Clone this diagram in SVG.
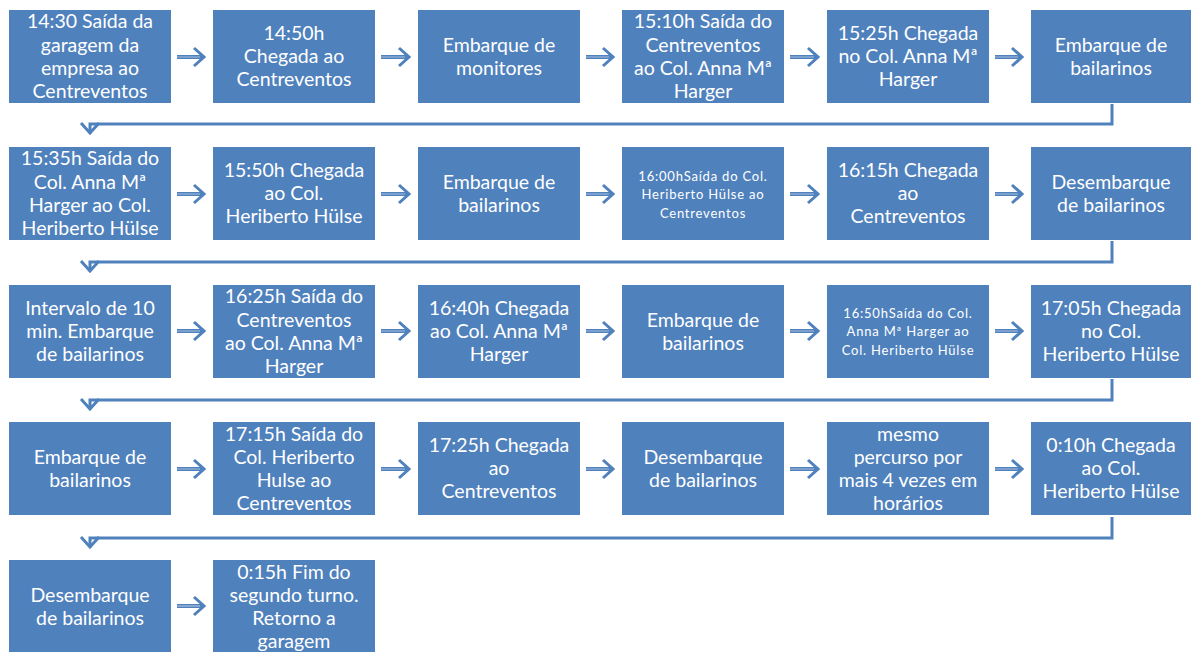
<svg xmlns="http://www.w3.org/2000/svg" width="1191" height="652" viewBox="0 0 1191 652">
<style>
.box{fill:#4f81bd}
.t{fill:#ffffff;font-family:Lato,"Liberation Sans",sans-serif;font-size:19.5px;text-anchor:middle}
.s{fill:#ffffff;font-family:Lato,"Liberation Sans",sans-serif;font-size:13px;letter-spacing:0.8px;text-anchor:middle}
.sh{stroke:#4f81bd;stroke-width:4;fill:none}
.shi{stroke:#a9c0e0;stroke-width:1.2;fill:none}
.ln{stroke:#4f81bd;stroke-width:3;fill:none}
</style>
<defs>
<marker id="chev" markerUnits="userSpaceOnUse" viewBox="-2 -2 14 22" markerWidth="14" markerHeight="22" refX="10" refY="9" orient="auto">
<path d="M0,0 L10,9 L0,18" fill="none" stroke="#4f81bd" stroke-width="3"/>
</marker>
</defs>
<g id="connectors">
<path class="sh" d="M177,57 H204" marker-end="url(#chev)"/>
<path class="sh" d="M381,57 H409" marker-end="url(#chev)"/>
<path class="sh" d="M586,57 H613" marker-end="url(#chev)"/>
<path class="sh" d="M790,57 H818" marker-end="url(#chev)"/>
<path class="sh" d="M995,57 H1022" marker-end="url(#chev)"/>
<path class="ln" d="M1112,104 V124 H90 V133" marker-end="url(#chev)"/>
<path class="sh" d="M177,194 H204" marker-end="url(#chev)"/>
<path class="sh" d="M381,194 H409" marker-end="url(#chev)"/>
<path class="sh" d="M586,194 H613" marker-end="url(#chev)"/>
<path class="sh" d="M790,194 H818" marker-end="url(#chev)"/>
<path class="sh" d="M995,194 H1022" marker-end="url(#chev)"/>
<path class="ln" d="M1112,241 V262 H90 V271" marker-end="url(#chev)"/>
<path class="sh" d="M177,331 H204" marker-end="url(#chev)"/>
<path class="sh" d="M381,331 H409" marker-end="url(#chev)"/>
<path class="sh" d="M586,331 H613" marker-end="url(#chev)"/>
<path class="sh" d="M790,331 H818" marker-end="url(#chev)"/>
<path class="sh" d="M995,331 H1022" marker-end="url(#chev)"/>
<path class="ln" d="M1112,379 V400 H90 V409" marker-end="url(#chev)"/>
<path class="sh" d="M177,469 H204" marker-end="url(#chev)"/>
<path class="sh" d="M381,469 H409" marker-end="url(#chev)"/>
<path class="sh" d="M586,469 H613" marker-end="url(#chev)"/>
<path class="sh" d="M790,469 H818" marker-end="url(#chev)"/>
<path class="sh" d="M995,469 H1022" marker-end="url(#chev)"/>
<path class="ln" d="M1112,517 V538 H90 V547" marker-end="url(#chev)"/>
<path class="sh" d="M177,606 H204" marker-end="url(#chev)"/>
<g>
<path class="shi" d="M177,57 H200 M381,57 H405 M586,57 H609 M790,57 H814 M995,57 H1018"/>
<path class="shi" d="M177,194 H200 M381,194 H405 M586,194 H609 M790,194 H814 M995,194 H1018"/>
<path class="shi" d="M177,331 H200 M381,331 H405 M586,331 H609 M790,331 H814 M995,331 H1018"/>
<path class="shi" d="M177,469 H200 M381,469 H405 M586,469 H609 M790,469 H814 M995,469 H1018"/>
<path class="shi" d="M177,606 H200"/>
</g>
</g>
<g id="n1"><rect class="box" x="9" y="10" width="162" height="93"/><text class="t"><tspan x="90" y="28">14:30 Saída da</tspan><tspan x="90" y="52">garagem da</tspan><tspan x="90" y="75">empresa ao</tspan><tspan x="90" y="98">Centreventos</tspan></text></g>
<g id="n2"><rect class="box" x="213" y="10" width="162" height="93"/><text class="t"><tspan x="294" y="40">14:50h</tspan><tspan x="294" y="63">Chegada ao</tspan><tspan x="294" y="86">Centreventos</tspan></text></g>
<g id="n3"><rect class="box" x="418" y="10" width="162" height="93"/><text class="t"><tspan x="499" y="52">Embarque de</tspan><tspan x="499" y="75">monitores</tspan></text></g>
<g id="n4"><rect class="box" x="622" y="10" width="162" height="93"/><text class="t"><tspan x="703" y="28">15:10h Saída do</tspan><tspan x="703" y="52">Centreventos</tspan><tspan x="703" y="75">ao Col. Anna Mª</tspan><tspan x="703" y="98">Harger</tspan></text></g>
<g id="n5"><rect class="box" x="827" y="10" width="162" height="93"/><text class="t"><tspan x="908" y="40">15:25h Chegada</tspan><tspan x="908" y="63">no Col. Anna Mª</tspan><tspan x="908" y="86">Harger</tspan></text></g>
<g id="n6"><rect class="box" x="1031" y="10" width="162" height="93"/><text class="t"><tspan x="1111" y="52">Embarque de</tspan><tspan x="1111" y="75">bailarinos</tspan></text></g>
<g id="n7"><rect class="box" x="9" y="147" width="162" height="93"/><text class="t"><tspan x="90" y="165">15:35h Saída do</tspan><tspan x="90" y="189">Col. Anna Mª</tspan><tspan x="90" y="212">Harger ao Col.</tspan><tspan x="90" y="235">Heriberto Hülse</tspan></text></g>
<g id="n8"><rect class="box" x="213" y="147" width="162" height="93"/><text class="t"><tspan x="294" y="177">15:50h Chegada</tspan><tspan x="294" y="200">ao Col.</tspan><tspan x="294" y="223">Heriberto Hülse</tspan></text></g>
<g id="n9"><rect class="box" x="418" y="147" width="162" height="93"/><text class="t"><tspan x="499" y="189">Embarque de</tspan><tspan x="499" y="212">bailarinos</tspan></text></g>
<g id="n10"><rect class="box" x="622" y="147" width="162" height="93"/><text class="s"><tspan x="703" y="181">16:00hSaída do Col.</tspan><tspan x="703" y="199">Heriberto Hülse ao</tspan><tspan x="703" y="218">Centreventos</tspan></text></g>
<g id="n11"><rect class="box" x="827" y="147" width="162" height="93"/><text class="t"><tspan x="908" y="177">16:15h Chegada</tspan><tspan x="908" y="200">ao</tspan><tspan x="908" y="223">Centreventos</tspan></text></g>
<g id="n12"><rect class="box" x="1031" y="147" width="162" height="93"/><text class="t"><tspan x="1111" y="189">Desembarque</tspan><tspan x="1111" y="212">de bailarinos</tspan></text></g>
<g id="n13"><rect class="box" x="9" y="285" width="162" height="93"/><text class="t"><tspan x="90" y="315">Intervalo de 10</tspan><tspan x="90" y="338">min. Embarque</tspan><tspan x="90" y="361">de bailarinos</tspan></text></g>
<g id="n14"><rect class="box" x="213" y="285" width="162" height="93"/><text class="t"><tspan x="294" y="303">16:25h Saída do</tspan><tspan x="294" y="327">Centreventos</tspan><tspan x="294" y="350">ao Col. Anna Mª</tspan><tspan x="294" y="373">Harger</tspan></text></g>
<g id="n15"><rect class="box" x="418" y="285" width="162" height="93"/><text class="t"><tspan x="499" y="315">16:40h Chegada</tspan><tspan x="499" y="338">ao Col. Anna Mª</tspan><tspan x="499" y="361">Harger</tspan></text></g>
<g id="n16"><rect class="box" x="622" y="285" width="162" height="93"/><text class="t"><tspan x="703" y="327">Embarque de</tspan><tspan x="703" y="350">bailarinos</tspan></text></g>
<g id="n17"><rect class="box" x="827" y="285" width="162" height="93"/><text class="s"><tspan x="908" y="318">16:50hSaída do Col.</tspan><tspan x="908" y="336">Anna Mª Harger  ao</tspan><tspan x="908" y="355">Col. Heriberto Hülse</tspan></text></g>
<g id="n18"><rect class="box" x="1031" y="285" width="162" height="93"/><text class="t"><tspan x="1111" y="315">17:05h Chegada</tspan><tspan x="1111" y="338">no Col.</tspan><tspan x="1111" y="361">Heriberto Hülse</tspan></text></g>
<g id="n19"><rect class="box" x="9" y="422" width="162" height="93"/><text class="t"><tspan x="90" y="464">Embarque de</tspan><tspan x="90" y="487">bailarinos</tspan></text></g>
<g id="n20"><rect class="box" x="213" y="422" width="162" height="93"/><text class="t"><tspan x="294" y="441">17:15h Saída do</tspan><tspan x="294" y="464">Col. Heriberto</tspan><tspan x="294" y="487">Hulse ao</tspan><tspan x="294" y="510">Centreventos</tspan></text></g>
<g id="n21"><rect class="box" x="418" y="422" width="162" height="93"/><text class="t"><tspan x="499" y="452">17:25h Chegada</tspan><tspan x="499" y="475">ao</tspan><tspan x="499" y="498">Centreventos</tspan></text></g>
<g id="n22"><rect class="box" x="622" y="422" width="162" height="93"/><text class="t"><tspan x="703" y="464">Desembarque</tspan><tspan x="703" y="487">de bailarinos</tspan></text></g>
<g id="n23"><rect class="box" x="827" y="422" width="162" height="93"/><text class="t"><tspan x="908" y="441">mesmo</tspan><tspan x="908" y="464">percurso por</tspan><tspan x="908" y="487">mais 4 vezes em</tspan><tspan x="908" y="510">horários</tspan></text></g>
<g id="n24"><rect class="box" x="1031" y="422" width="162" height="93"/><text class="t"><tspan x="1111" y="452">0:10h Chegada</tspan><tspan x="1111" y="475">ao Col.</tspan><tspan x="1111" y="498">Heriberto Hülse</tspan></text></g>
<g id="n25"><rect class="box" x="9" y="560" width="162" height="93"/><text class="t"><tspan x="90" y="602">Desembarque</tspan><tspan x="90" y="625">de bailarinos</tspan></text></g>
<g id="n26"><rect class="box" x="213" y="560" width="162" height="93"/><text class="t"><tspan x="294" y="579">0:15h Fim do</tspan><tspan x="294" y="602">segundo turno.</tspan><tspan x="294" y="625">Retorno a</tspan><tspan x="294" y="648">garagem</tspan></text></g>
</svg>
